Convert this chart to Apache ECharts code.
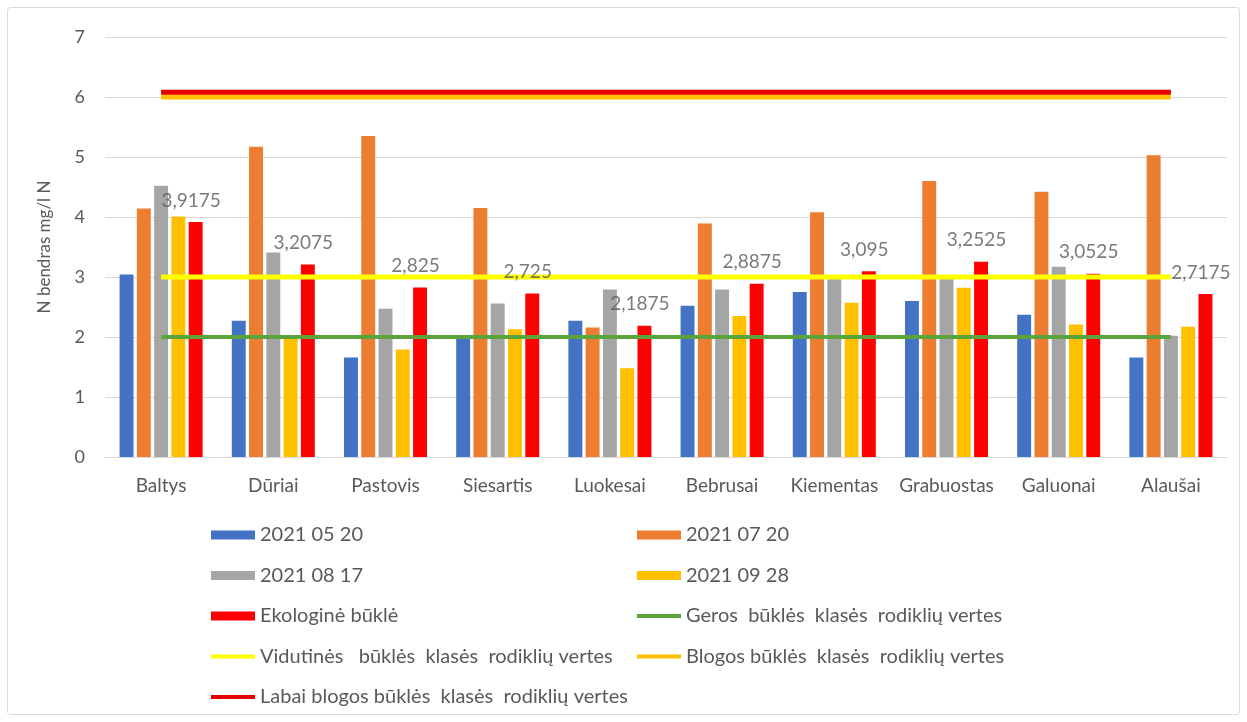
<!DOCTYPE html>
<html>
<head>
<meta charset="utf-8">
<script src="https://cdn.jsdelivr.net/npm/echarts@6/dist/echarts.min.js"></script>
<style>html,body{margin:0;padding:0;background:#fff;}#c{width:1247px;height:722px;}</style>
</head>
<body>
<div id="c"></div>
<script>
const categories = ['Baltys','Dūriai','Pastovis','Siesartis','Luokesai','Bebrusai','Kiementas','Grabuostas','Galuonai','Alaušai'];
const s0520 = [3.04, 2.27, 1.66, 1.98, 2.27, 2.52, 2.75, 2.60, 2.37, 1.66];
const s0720 = [4.14, 5.17, 5.35, 4.15, 2.16, 3.89, 4.08, 4.60, 4.42, 5.03];
const s0817 = [4.52, 3.41, 2.47, 2.56, 2.79, 2.79, 2.97, 2.97, 3.17, 2.02];
const s0928 = [4.01, 1.97, 1.79, 2.13, 1.48, 2.35, 2.57, 2.82, 2.21, 2.17];
const ekologine = [3.9175, 3.2075, 2.825, 2.725, 2.1875, 2.8875, 3.095, 3.2525, 3.0525, 2.7175];
const geros = [2,2,2,2,2,2,2,2,2,2];
const vidutines = [3,3,3,3,3,3,3,3,3,3];
const blogos = [6,6,6,6,6,6,6,6,6,6];
const labaiBlogos = [6.08,6.08,6.08,6.08,6.08,6.08,6.08,6.08,6.08,6.08];
const yTicks = {min: 0, max: 7, interval: 1};
const names = ['2021 05 20','2021 07 20','2021 08 17','2021 09 28','Ekologinė būklė',
  'Geros  būklės  klasės  rodiklių vertes','Vidutinės   būklės  klasės  rodiklių vertes',
  'Blogos būklės  klasės  rodiklių vertes','Labai blogos būklės  klasės  rodiklių vertes'];

const FONT = 'Lato';
const txt = '#595959';
const chart = echarts.init(document.getElementById('c'));

function bar(name, data, color) {
  return {name, type:'bar', data, itemStyle:{color}, barCategoryGap:'26%', barGap:'24%', z:2};
}
function line(name, data, color, width) {
  return {name, type:'line', data, symbol:'none', lineStyle:{color, width}, itemStyle:{color}, z:3};
}
const legendText = {color:txt, fontSize:20, fontFamily:FONT, lineHeight:20};
const lineItem = n => ({name:n, itemStyle:{opacity:0}, lineStyle:{width:4}});

chart.setOption({
  animation:false,
  textStyle:{fontFamily:FONT},
  graphic:[{type:'rect', shape:{x:7.5,y:7.5,width:1232,height:707,r:3}, style:{fill:'none', stroke:'#d9d9d9', lineWidth:1}, silent:true}],
  grid:{left:105, right:20, top:37, bottom:265},
  xAxis:{type:'category', data:categories,
    axisLine:{lineStyle:{color:'#d9d9d9'}}, axisTick:{show:false},
    axisLabel:{color:txt, fontSize:19, fontFamily:FONT, margin:19, interval:0}},
  yAxis:{type:'value', min:yTicks.min, max:yTicks.max, interval:yTicks.interval,
    name:'N bendras mg/l N', nameLocation:'middle', nameGap:52,
    nameTextStyle:{color:txt, fontSize:17, fontFamily:FONT},
    axisLine:{show:false}, axisTick:{show:false},
    splitLine:{lineStyle:{color:'#d9d9d9'}},
    axisLabel:{color:txt, fontSize:18, fontFamily:FONT, margin:20}},
  legend:[
    {orient:'vertical', left:209, top:525, padding:0, itemWidth:44, itemHeight:9, itemGap:20.5,
     textStyle:legendText,
     data:[{name:names[0], icon:'rect'},{name:names[2], icon:'rect'},{name:names[4], icon:'rect'},lineItem(names[6]),lineItem(names[8])]},
    {orient:'vertical', left:635, top:525, padding:0, itemWidth:44, itemHeight:9, itemGap:20.5,
     textStyle:legendText,
     data:[{name:names[1], icon:'rect'},{name:names[3], icon:'rect'},lineItem(names[5]),lineItem(names[7])]}
  ],
  series:[
    bar(names[0], s0520, '#4472C4'),
    bar(names[1], s0720, '#ED7D31'),
    bar(names[2], s0817, '#A5A5A5'),
    bar(names[3], s0928, '#FFC000'),
    bar(names[4], ekologine, '#FF0000'),
    line(names[5], geros, '#5BA33B', 4),
    line(names[6], vidutines, '#FFFF00', 5),
    line(names[7], blogos, '#FFC000', 5),
    line(names[8], labaiBlogos, '#E80000', 5),
    {name:'labels', type:'scatter', data:ekologine, symbolSize:0, z:6, silent:true,
     label:{show:true, position:'top', distance:12, offset:[30,0], color:txt, fontFamily:FONT, fontSize:19,
       formatter: p => String(p.value).replace('.', ',')}}
  ]
});
</script>
</body>
</html>
